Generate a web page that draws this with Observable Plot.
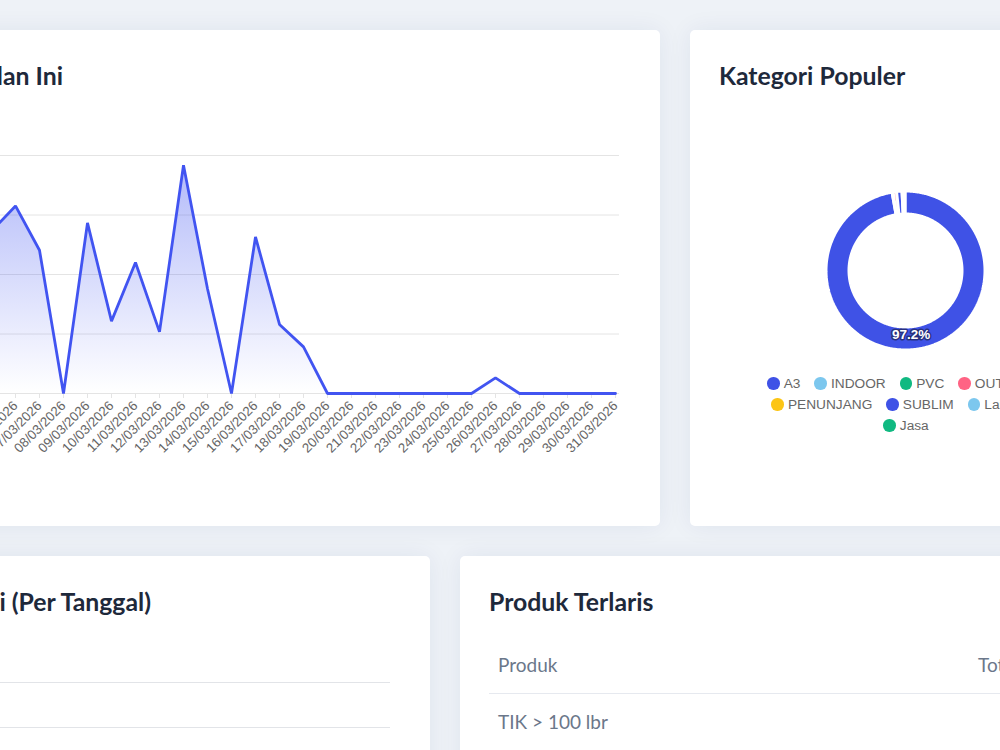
<!DOCTYPE html>
<html>
<head>
<meta charset="utf-8">
<script src="https://cdn.jsdelivr.net/npm/d3@7"></script>
<script src="https://cdn.jsdelivr.net/npm/@observablehq/plot@0.6"></script>
<style>
  html, body { margin: 0; padding: 0; }
  body { width: 1000px; height: 750px; overflow: hidden; background: #eef2f7; position: relative; font-family: Lato, "Liberation Sans", sans-serif; }
  .card { position: absolute; background: #fff; border-radius: 5px; box-shadow: 0 0 24px rgba(1, 41, 112, 0.07); }
  .title { position: absolute; top: 34px; margin: 0; font: 700 24.8px/24px Lato, sans-serif; color: #1e293b; white-space: nowrap; }
  .chart { position: absolute; }
  .chart svg { max-width: none !important; display: block; }
  .legend { position: absolute; left: 2px; width: 428px; top: 343px; font: 13.7px "Liberation Sans", Arial, sans-serif; color: #666; }
  .legend .row { display: flex; justify-content: center; height: 21px; align-items: center; }
  .legend .item { display: flex; align-items: center; margin: 0 7px; white-space: nowrap; }
  .legend .dot { width: 12.5px; height: 12.5px; border-radius: 50%; margin-right: 4px; }
  table { position: absolute; left: 29px; top: 81px; width: 602px; border-collapse: collapse; table-layout: fixed; font: 400 19px Lato, sans-serif; color: #6b778a; }
  th, td { height: 56px; padding: 0 9px; text-align: left; font-weight: 400; vertical-align: middle; box-sizing: border-box; }
  th { border-bottom: 1px solid #e6e9ef; }
</style>
</head>
<body>
<div class="card" id="card1" style="left:-230px; top:30px; width:890px; height:496px;">
  <div class="title" style="right:597px;">Tren Penjualan Bulan Ini</div>
  <div class="chart" id="lineChart" style="left:29px; top:100px;"></div>
</div>
<div class="card" id="card2" style="left:690px; top:30px; width:430px; height:496px;">
  <div class="title" style="left:29px;">Kategori Populer</div>
  <div class="chart" id="donutChart" style="left:115px; top:140px;"></div>
  <div class="legend" id="legend"></div>
</div>
<div class="card" id="card3" style="left:-230px; top:556px; width:660px; height:420px;">
  <div class="title" style="right:279px;">Jumlah Transaksi (Per Tanggal)</div>
  <div class="chart" id="barChart" style="left:29px; top:104px;"></div>
</div>
<div class="card" id="card4" style="left:460px; top:556px; width:660px; height:420px;">
  <div class="title" style="left:29px;">Produk Terlaris</div>
  <table id="topTable">
    <colgroup><col style="width:480px"><col style="width:122px"></colgroup>
    <thead><tr><th id="h1"></th><th id="h2"></th></tr></thead>
    <tbody id="tbody"></tbody>
  </table>
</div>
<script>
// ---------- Data ----------
const dates = [
  "01/03/2026","02/03/2026","03/03/2026","04/03/2026","05/03/2026","06/03/2026","07/03/2026",
  "08/03/2026","09/03/2026","10/03/2026","11/03/2026","12/03/2026","13/03/2026","14/03/2026",
  "15/03/2026","16/03/2026","17/03/2026","18/03/2026","19/03/2026","20/03/2026","21/03/2026",
  "22/03/2026","23/03/2026","24/03/2026","25/03/2026","26/03/2026","27/03/2026","28/03/2026",
  "29/03/2026","30/03/2026","31/03/2026"
];
const revenue = [
  900000, 1200000, 700000, 1100000, 1365000, 1576000, 1204000,
  0, 1434000, 608000, 1101000, 518000, 1918000, 880000,
  0, 1316000, 580000, 392000, 0, 0, 0,
  0, 0, 0, 0, 131000, 0, 0,
  0, 0, 0
];
const revenueTicks = [0, 500000, 1000000, 1500000, 2000000];

const categories = ["A3", "INDOOR", "PVC", "OUTDOOR", "PENUNJANG", "SUBLIM", "Lain-Lain", "Jasa"];
const categoryShares = [97.2, 0.2, 0.2, 0.5, 0.2, 0.9, 0.4, 0.4];
const categoryColors = ["#3f52e6", "#7cc7ee", "#10b981", "#ff6384", "#fcc515", "#3f52e6", "#7cc7ee", "#10b981"];

const transaksiTicks = [0, 1, 2, 3, 4, 5];

const tableHeaders = ["Produk", "Total Terjual"];
const topProducts = ["TIK > 100 lbr"];
const topProductTotals = [25];

// ---------- Line chart ----------
const lineData = dates.map((d, i) => ({date: d, value: revenue[i]}));
const W = 832, H = 370, mL = 91, mR = 12, mT = 25, mB = 107;

const gradientDefs = () => {
  const defs = d3.create("svg:defs");
  const g = defs.append("linearGradient").attr("id", "areaGrad")
    .attr("gradientUnits", "userSpaceOnUse")
    .attr("x1", 0).attr("x2", 0).attr("y1", mT).attr("y2", H - mB);
  g.append("stop").attr("offset", 0).attr("stop-color", "#4154f1").attr("stop-opacity", 0.42);
  g.append("stop").attr("offset", 1).attr("stop-color", "#4154f1").attr("stop-opacity", 0.0);
  return defs.node();
};

const lineChart = Plot.plot({
  width: W, height: H,
  marginLeft: mL, marginRight: mR, marginTop: mT, marginBottom: mB,
  style: {background: "transparent", fontFamily: "'Liberation Sans', Arial, sans-serif", fontSize: "13.3px", color: "#666", overflow: "visible"},
  x: {type: "point", domain: dates, padding: 0, tickRotate: -45, tickSize: 0, tickPadding: 10, label: null},
  y: {domain: [0, 2000000], ticks: revenueTicks, tickSize: 0, tickPadding: 10, label: null,
      tickFormat: d => "Rp " + d3.format(",")(d).replace(/,/g, ".")},
  marks: [
    gradientDefs,
    Plot.ruleY(revenueTicks, {stroke: "#e4e4e4", strokeWidth: 1}),
    Plot.ruleX(dates, {x: d => d, y1: 0, y2: -42000, stroke: "#e4e4e4"}),
    Plot.areaY(lineData, {x: "date", y: "value", fill: "url(#areaGrad)"}),
    Plot.lineY(lineData, {x: "date", y: "value", stroke: "#4154f1", strokeWidth: 2.8, strokeLinejoin: "miter"})
  ]
});
document.getElementById("lineChart").appendChild(lineChart);

// ---------- Donut chart ----------
const R_OUT = 79, R_IN = 57;
const arcs = d3.pie().sort(null).value(d => d)(categoryShares);
function slicePoints(a) {
  const n = Math.max(2, Math.ceil((a.endAngle - a.startAngle) / 0.01));
  const pts = [];
  for (let k = 0; k <= n; k++) {
    const t = a.startAngle + (a.endAngle - a.startAngle) * k / n;
    pts.push({x: R_OUT * Math.sin(t), y: R_OUT * Math.cos(t)});
  }
  for (let k = n; k >= 0; k--) {
    const t = a.startAngle + (a.endAngle - a.startAngle) * k / n;
    pts.push({x: R_IN * Math.sin(t), y: R_IN * Math.cos(t)});
  }
  return pts;
}
const labelData = arcs
  .map((a, i) => ({a, i}))
  .filter(d => categoryShares[d.i] >= 5)
  .map(({a, i}) => {
    const m = (a.startAngle + a.endAngle) / 2;
    return {x: 64 * Math.sin(m), y: 64 * Math.cos(m), text: categoryShares[i].toFixed(1) + "%"};
  });

const donut = Plot.plot({
  width: 200, height: 200,
  margin: 0,
  style: {background: "transparent", overflow: "visible"},
  x: {domain: [-100, 100], axis: null},
  y: {domain: [-100, 100], axis: null},
  marks: [
    ...arcs.map((a, i) => Plot.line(slicePoints(a), {
      x: "x", y: "y", curve: "linear-closed",
      fill: categoryColors[i], stroke: "#fff", strokeWidth: 2, strokeLinejoin: "miter"
    })),
    Plot.text(labelData, {
      x: "x", y: "y", text: "text", fill: "#fff",
      stroke: "rgba(20,20,40,0.55)", strokeWidth: 3,
      fontWeight: "bold", fontSize: 13.5, fontFamily: "'Liberation Sans', Arial, sans-serif"
    })
  ]
});
document.getElementById("donutChart").appendChild(donut);

// legend (HTML, Chart.js style)
const legendRows = [[0, 1, 2, 3], [4, 5, 6], [7]];
const legendEl = document.getElementById("legend");
legendRows.forEach(row => {
  const r = document.createElement("div");
  r.className = "row";
  row.forEach(i => {
    const it = document.createElement("div");
    it.className = "item";
    const dot = document.createElement("span");
    dot.className = "dot";
    dot.style.background = categoryColors[i];
    const tx = document.createElement("span");
    tx.textContent = categories[i];
    it.appendChild(dot); it.appendChild(tx);
    r.appendChild(it);
  });
  legendEl.appendChild(r);
});

// ---------- Bottom-left chart (grid visible only) ----------
const barChart = Plot.plot({
  width: 602, height: 320,
  marginLeft: 91, marginRight: 11, marginTop: 22, marginBottom: 73,
  style: {background: "transparent", fontFamily: "'Liberation Sans', Arial, sans-serif", fontSize: "12px", color: "#666"},
  x: {axis: null},
  y: {domain: [0, 5], axis: null},
  marks: [
    Plot.ruleY(transaksiTicks, {y: d => 5 - d, stroke: "#e2e4e8"})
  ]
});
document.getElementById("barChart").appendChild(barChart);

// ---------- Table ----------
document.getElementById("h1").textContent = tableHeaders[0];
document.getElementById("h2").textContent = tableHeaders[1];
const tbody = document.getElementById("tbody");
topProducts.forEach((p, i) => {
  const tr = document.createElement("tr");
  const a = document.createElement("td"); a.textContent = p;
  const b = document.createElement("td"); b.textContent = topProductTotals[i]; b.style.textAlign = "right";
  tr.appendChild(a); tr.appendChild(b);
  tbody.appendChild(tr);
});
</script>
</body>
</html>
